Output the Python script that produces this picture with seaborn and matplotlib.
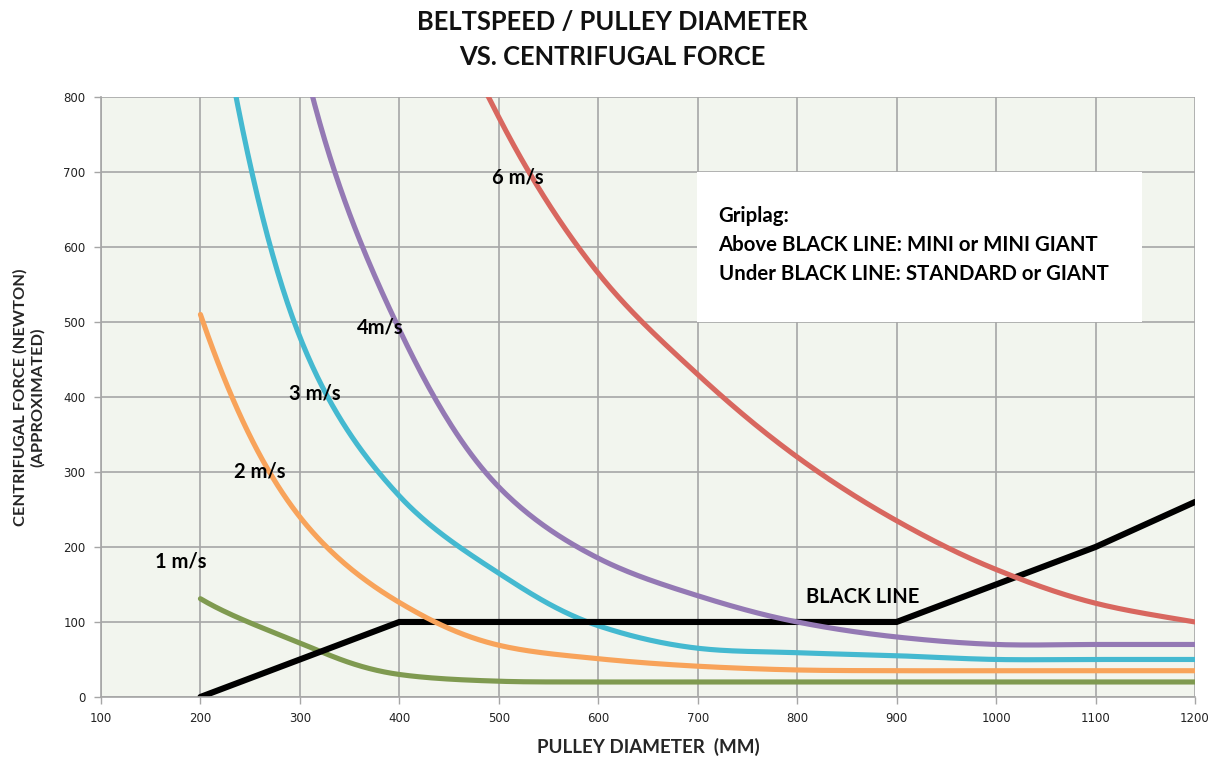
import numpy as np
import pandas as pd
import matplotlib
matplotlib.use("Agg")
import matplotlib.pyplot as plt
import seaborn as sns

# Pulley diameters (mm) where each belt speed curve is sampled
diameters = [200, 300, 400, 500, 600, 700, 800, 900, 1000, 1100, 1200]

# Centrifugal force (N) per belt speed
force_1ms = [131, 72, 30, 21, 20, 20, 20, 20, 20, 20, 20]
force_2ms = [510, 240, 126, 69, 51, 41, 36, 35, 35, 35, 35]
force_3ms = [1080, 480, 268, 165, 95, 65, 59, 55, 50, 50, 50]
force_4ms = [1900, 870, 490, 280, 185, 135, 100, 80, 70, 70, 70]
force_6ms = [3600, 1800, 1100, 773, 565, 430, 320, 235, 170, 125, 100]

# Gripper threshold ("BLACK LINE")
black_line = [0, 50, 100, 100, 100, 100, 100, 100, 150, 200, 260]

x_ticks = [100, 200, 300, 400, 500, 600, 700, 800, 900, 1000, 1100, 1200]
y_ticks = [0, 100, 200, 300, 400, 500, 600, 700, 800]

series_colors = {
    "1 m/s": "#7F9A50",
    "2 m/s": "#F8A35A",
    "3 m/s": "#44B9D0",
    "4m/s": "#9479B4",
    "6 m/s": "#D8675F",
}
series_values = {
    "1 m/s": force_1ms,
    "2 m/s": force_2ms,
    "3 m/s": force_3ms,
    "4m/s": force_4ms,
    "6 m/s": force_6ms,
}
label_pos = {
    "6 m/s": (519, 692),
    "4m/s": (381, 493),
    "3 m/s": (315, 404),
    "2 m/s": (260, 301),
    "1 m/s": (180, 181),
}


def smooth_path(xs, ys, n=40):
    """Smoothed line through the points: Bezier segments drawn on log(force)."""
    pts = np.column_stack([xs, np.log(ys)]).astype(float)
    out = []
    for i in range(len(pts) - 1):
        p0 = pts[i - 1] if i > 0 else 2 * pts[i] - pts[i + 1]
        p1 = pts[i]
        p2 = pts[i + 1]
        p3 = pts[i + 2] if i + 2 < len(pts) else 2 * pts[i + 1] - pts[i]
        c1 = p1 + (p2 - p0) / 6.0
        c2 = p2 - (p3 - p1) / 6.0
        t = np.linspace(0, 1, n, endpoint=(i == len(pts) - 2))[:, None]
        seg = ((1 - t) ** 3) * p1 + 3 * ((1 - t) ** 2) * t * c1 + 3 * (1 - t) * (t ** 2) * c2 + (t ** 3) * p2
        out.append(seg)
    arr = np.vstack(out)
    return arr[:, 0], np.exp(arr[:, 1])


sns.set_theme(style="white")
plt.rcParams["font.family"] = ["DejaVu Sans"]
bold_family = ["Lato", "DejaVu Sans"]

fig = plt.figure(figsize=(12.18, 7.57), dpi=100)
ax = fig.add_axes([0.0829, 0.0793, 0.8982, 0.7926])
ax.set_facecolor("#F2F5EE")

ax.set_xlim(100, 1200)
ax.set_ylim(0, 800)
ax.set_xticks(x_ticks)
ax.set_yticks(y_ticks)
ax.grid(True, color="#A6A6A6", linewidth=1.2)
ax.set_axisbelow(True)
for side in ["top", "right"]:
    ax.spines[side].set_visible(False)
for side in ["left", "bottom"]:
    ax.spines[side].set_color("#A6A6A6")
    ax.spines[side].set_linewidth(1.2)
ax.tick_params(axis="both", direction="out", length=5, width=1.0, color="#A6A6A6",
               labelsize=8.5, labelcolor="#222222", pad=6, left=True, bottom=True)

draw_order = ["1 m/s", "3 m/s", "BLACK", "2 m/s", "4m/s", "6 m/s"]
for name in draw_order:
    if name == "BLACK":
        df = pd.DataFrame({"d": diameters, "f": black_line})
        sns.lineplot(data=df, x="d", y="f", ax=ax, color="black", linewidth=4.4,
                     sort=False, solid_capstyle="round", solid_joinstyle="miter")
        continue
    sx, sy = smooth_path(diameters, series_values[name])
    df = pd.DataFrame({"d": sx, "f": sy})
    sns.lineplot(data=df, x="d", y="f", ax=ax, color=series_colors[name], linewidth=3.7,
                 sort=False, solid_capstyle="round")

label_font = dict(fontsize=14.5, fontweight="bold", family=bold_family, color="black")
for name, (lx, ly) in label_pos.items():
    ax.text(lx, ly, name, ha="center", va="center", **label_font)
ax.text(866, 133, "BLACK LINE", ha="center", va="center", **label_font)

# Note box
ax.add_patch(plt.Rectangle((699, 500), 448, 200, facecolor="white", edgecolor="none", zorder=3))
ax.text(721, 603, "Griplag:\nAbove BLACK LINE: MINI or MINI GIANT\nUnder BLACK LINE: STANDARD or GIANT",
        ha="left", va="center", linespacing=1.55, zorder=4,
        fontsize=14.7, fontweight="bold", family=bold_family, color="black")

ax.set_xlabel("PULLEY DIAMETER  (MM)", fontsize=13.5, fontweight="bold",
              family=bold_family, labelpad=9)
ax.set_ylabel("CENTRIFUGAL FORCE (NEWTON)\n(APPROXIMATED)", fontsize=11.8, fontweight="bold",
              family=bold_family, labelpad=13, linespacing=1.3)

fig.text(0.503, 0.948, "BELTSPEED / PULLEY DIAMETER\nVS. CENTRIFUGAL FORCE", ha="center", va="center",
         fontsize=18.4, fontweight="bold", family=bold_family, linespacing=1.55, color="#111111")

fig.savefig("out.png", dpi=100, facecolor="white")
